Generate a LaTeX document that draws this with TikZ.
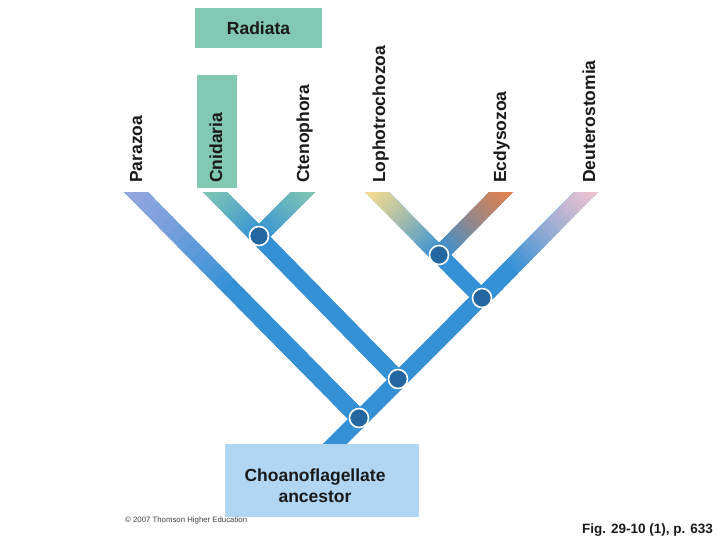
\documentclass[tikz,border=0pt]{standalone}
\usepackage{fontspec}
\setmainfont{Liberation Sans}
\usetikzlibrary{calc}
\definecolor{branchblue}{RGB}{52,145,214}
\definecolor{jointblue}{RGB}{36,102,160}
\definecolor{radgreen}{RGB}{130,200,178}
\definecolor{ancblue}{RGB}{176,214,244}
\definecolor{parcol}{RGB}{150,166,222}
\definecolor{lopcol}{RGB}{252,222,140}
\definecolor{ecdcol}{RGB}{232,128,72}
\definecolor{deucol}{RGB}{242,196,208}
\definecolor{labelgray}{RGB}{25,25,25}
\tikzset{
  branch/.style={line width=17pt,color=branchblue,line cap=butt},
  joint/.style={circle,fill=jointblue,draw=white,line width=1.6pt,minimum size=19pt,inner sep=0pt},
  taxon/.style={rotate=90,anchor=base west,inner sep=0pt,text=labelgray,
    font=\bfseries\fontsize{17.5}{21}\selectfont},
  groupbox/.style={fill=radgreen,inner sep=0pt},
}
\begin{document}
\begin{tikzpicture}[x=1pt,y=-1pt]
  \useasboundingbox (0,0) rectangle (720,540);
  % branch points
  \coordinate (j1) at (259,236);
  \coordinate (j2) at (439,255);
  \coordinate (j3) at (482,298);
  \coordinate (j4) at (398,379);
  \coordinate (j5) at (359,418);
  \coordinate (base) at (320,459);
  % tips (cut off at y=193)
  \coordinate (tP) at (127,183);
  \coordinate (tCn) at (206,183);
  \coordinate (tCt) at (312,183);
  \coordinate (tL) at (368,183);
  \coordinate (tE) at (510,183);
  \coordinate (tD) at (595,183);
  \begin{scope}
    \clip (0,193) rectangle (720,540);
    \draw[branch] (base) -- (tD);
    \draw[branch] (tP) -- (j5);
    \draw[branch] (tCn) -- (j4);
    \draw[branch] (tCt) -- (j1);
    \draw[branch] (tL) -- (j3);
    \draw[branch] (tE) -- (j2);
    % colour fades at the tips
    \foreach \tipc/\jn/\col/\fade in {tP/j5/parcol/0.45,tCn/j1/radgreen/1,tCt/j1/radgreen/1,
        tL/j2/lopcol/1,tE/j2/ecdcol/1,tD/j3/deucol/0.75}
      \foreach \i in {0,...,29} {
        \pgfmathtruncatemacro\p{100*max(0,1-(min(1,\i/(29*\fade)))^1.2)}
        \draw[branch,color=\col!\p!branchblue]
          ($(\tipc)!{\i/30}!(\jn)$) -- ($(\tipc)!{(\i+1.5)/30}!(\jn)$);
      }
  \end{scope}
  \node[joint] (n1) at (j1) {};
  \node[joint] (n2) at (j2) {};
  \node[joint] (n3) at (j3) {};
  \node[joint] (n4) at (j4) {};
  \node[joint] (n5) at (j5) {};
  % boxes
  \node[groupbox,minimum width=127pt,minimum height=40pt,text=labelgray,
    font=\bfseries\fontsize{17.5}{21}\selectfont] (radiata) at (258.5,28) {Radiata};
  \node[groupbox,minimum width=40pt,minimum height=113pt] (cnidbox) at (217,131.5) {};
  \node[fill=ancblue,inner sep=0pt,minimum width=194pt,minimum height=73pt] (anc) at (322,480.5) {};
  \node[align=center,text=labelgray,font=\bfseries\fontsize{17.5}{21}\selectfont]
    (anclabel) at (315,486) {Choanoflagellate\\ancestor};
  % taxa
  \node[taxon] (parazoa) at (142,183) {Parazoa};
  \node[taxon] (cnidaria) at (222,183) {Cnidaria};
  \node[taxon] (ctenophora) at (309,183) {Ctenophora};
  \node[taxon] (lophotrochozoa) at (385,183) {Lophotrochozoa};
  \node[taxon] (ecdysozoa) at (506,183) {Ecdysozoa};
  \node[taxon] (deuterostomia) at (595,183) {Deuterostomia};
  % credits
  \node[anchor=base west,inner sep=0pt,text=black!75,font=\fontsize{7.8}{9}\selectfont]
    (copyright) at (125,522) {\textcopyright\ 2007 Thomson Higher Education};
  \node[anchor=base east,inner sep=0pt,text=labelgray,font=\bfseries\fontsize{13.5}{16}\selectfont]
    (figref) at (713,533) {Fig. 29-10 (1), p. 633};
\end{tikzpicture}
\end{document}
